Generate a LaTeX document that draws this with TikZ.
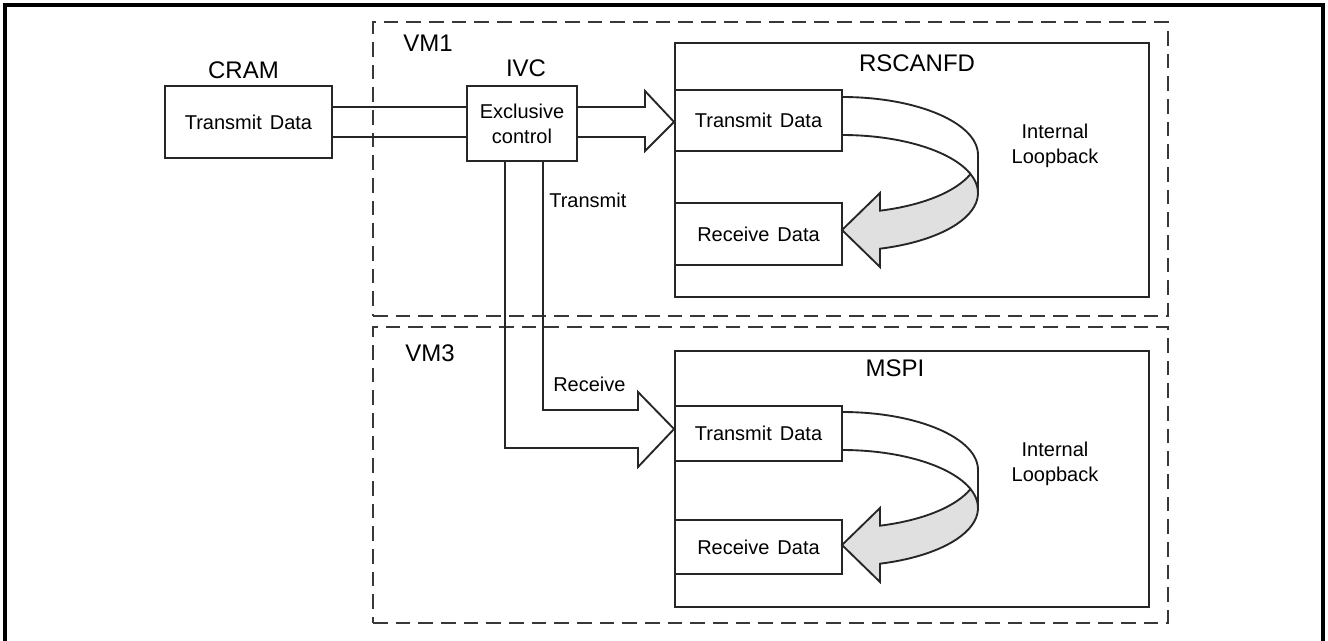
\documentclass[tikz,border=0pt]{standalone}
\usepackage{fontspec}
\setmainfont{Liberation Sans}
\usetikzlibrary{calc}
\newcommand{\loopribbon}[1]{%
  \begin{scope}[shift={(0,#1)}]
    \draw[conn] (842,97) arc[start angle=-90, end angle=0, x radius=136, y radius=58] -- (978,193);
    \draw[conn] (842,135) arc[start angle=-90, end angle=-19.12, x radius=136, y radius=58];
    \draw[loopfill] (970.5,174) arc[start angle=19.12, end angle=73.78, x radius=136, y radius=58]
      -- (880,193) -- (842,230) -- (880,267) -- (880,248.7)
      arc[start angle=73.78, end angle=-19.12, x radius=136, y radius=58] -- cycle;
  \end{scope}}
\begin{document}
\begin{tikzpicture}[x=0.75pt,y=-0.75pt,line join=miter,
  box/.style={draw=black!85, line width=1.4pt, inner sep=0pt, align=center,
    font=\fontsize{15}{18.75}\selectfont},
  vmbox/.style={draw=black!78, line width=1.6pt, dash pattern=on 11pt off 6pt, inner sep=0pt},
  title/.style={inner sep=0pt, font=\fontsize{18}{21}\selectfont},
  lbl/.style={inner sep=0pt, align=center, font=\fontsize{15}{18.75}\selectfont},
  conn/.style={draw=black!85, line width=1.4pt},
  loopfill/.style={conn, fill=black!12}]
\useasboundingbox (0,0) rectangle (1328,641);
\draw[line width=2.4pt] (5,650) -- (5,5) -- (1323,5) -- (1323,650);

% VM regions
\node[vmbox, minimum width=596.25pt, minimum height=220.5pt] (vm1) at (770.5,169) {};
\node[vmbox, minimum width=596.25pt, minimum height=222pt] (vm3) at (770.5,475) {};
\node[title, anchor=west] (vm1l) at (403,43) {VM1};
\node[title, anchor=west] (vm3l) at (405,353) {VM3};

% CRAM
\node[box, minimum width=125.25pt, minimum height=54pt] (cram) at (248.5,122) {Transmit\hspace{0.4em}Data};
\node[title] (cramt) at (243.5,70) {CRAM};

% IVC
\node[box, minimum width=82.5pt, minimum height=56.25pt] (ivc) at (522,123.5) {Exclusive\\control};
\node[title] (ivct) at (526,68) {IVC};

% RSCANFD
\node[box, minimum width=355.5pt, minimum height=190.5pt] (rs) at (912,170) {};
\node[title] (rst) at (917,63) {RSCANFD};
\node[box, minimum width=125.25pt, minimum height=45.75pt] (rstx) at (758.5,120.5) {Transmit\hspace{0.4em}Data};
\node[box, minimum width=125.25pt, minimum height=46.5pt] (rsrx) at (758.5,234) {Receive\hspace{0.4em}Data};
\node[lbl] (rsil) at (1055,146) {Internal\\Loopback};

% MSPI
\node[box, minimum width=355.5pt, minimum height=192pt] (ms) at (912,479) {};
\node[title] (mst) at (895,368) {MSPI};
\node[box, minimum width=125.25pt, minimum height=41.25pt] (mstx) at (758.5,433.5) {Transmit\hspace{0.4em}Data};
\node[box, minimum width=125.25pt, minimum height=40.5pt] (msrx) at (758.5,547) {Receive\hspace{0.4em}Data};
\node[lbl] (msil) at (1055,464) {Internal\\Loopback};

% CRAM -> IVC
\draw[conn] (cram.east |- 0,107) -- (ivc.west |- 0,107);
\draw[conn] (cram.east |- 0,137) -- (ivc.west |- 0,137);

% IVC -> RSCANFD transmit (block arrow)
\draw[conn] (ivc.east |- 0,107) -- (645,107) -- (645,91) -- (rstx.west |- 0,122)
  -- (645,151) -- (645,137) -- (ivc.east |- 0,137);

% IVC -> MSPI transmit (L-shaped block arrow)
\draw[conn] (ivc.south -| 543,0) -- (543,410) -- (638,410) -- (638,392) -- (mstx.west |- 0,429)
  -- (638,467) -- (638,448) -- (505,448) -- (ivc.south -| 505,0);

\node[lbl, anchor=west] (tx) at (549,200) {Transmit};
\node[lbl, anchor=west] (rx) at (553,384) {Receive};

% loopbacks
\loopribbon{0}
\loopribbon{315}
\end{tikzpicture}
\end{document}
